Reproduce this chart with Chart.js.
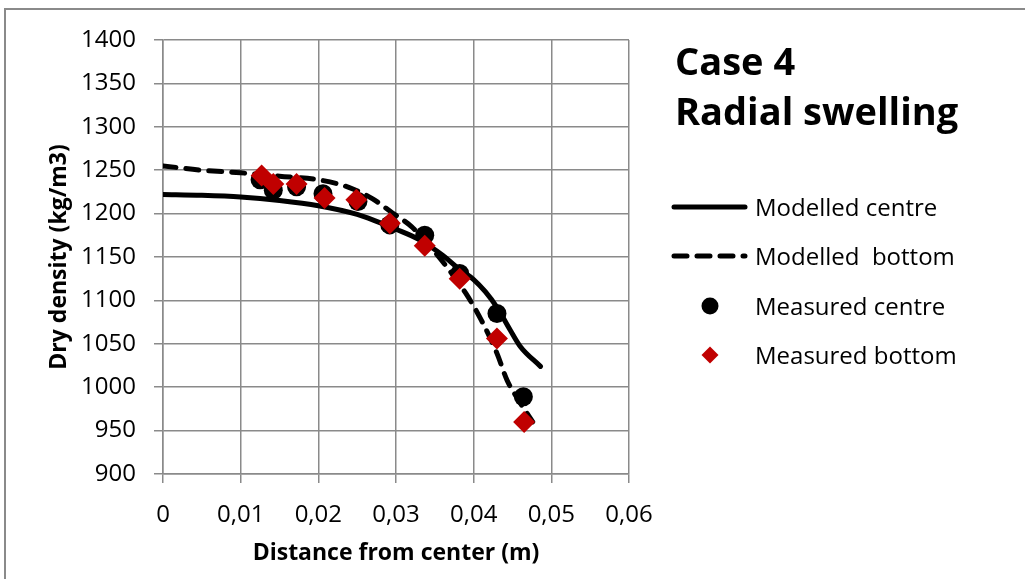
<!DOCTYPE html>
<html>
<head>
<meta charset="utf-8">
<script src="https://cdn.jsdelivr.net/npm/chart.js@4.4.1/dist/chart.umd.min.js"></script>
<style>
  html, body { margin: 0; padding: 0; background: #ffffff; }
  #wrap { width: 1025px; height: 579px; position: relative; }
</style>
</head>
<body>
<div id="wrap"><canvas id="c" width="1025" height="579"></canvas></div>
<script>
// ---- data ----
const modelCentreX = [0, 0.005, 0.01, 0.015, 0.02, 0.025, 0.0275, 0.03, 0.033, 0.036, 0.038, 0.04, 0.0415, 0.043, 0.0447, 0.046, 0.0486];
const modelCentreY = [1222, 1221, 1219, 1215, 1209, 1199, 1191, 1182, 1170, 1152, 1137, 1124, 1110, 1092, 1066, 1047, 1024];

const modelBottomX = [0, 0.005, 0.01, 0.015, 0.02, 0.024, 0.027, 0.0295, 0.032, 0.034, 0.0365, 0.039, 0.041, 0.043, 0.0443, 0.0455, 0.0476];
const modelBottomY = [1255, 1250, 1247, 1243, 1239, 1230, 1217, 1201, 1185, 1166, 1139, 1108, 1077, 1039, 1008, 989, 960];

const measCentreX = [0.0125, 0.0142, 0.0172, 0.0206, 0.0251, 0.0292, 0.0337, 0.0382, 0.043, 0.0464];
const measCentreY = [1239, 1227, 1231, 1223, 1214, 1187, 1175, 1131, 1085, 989];

const measBottomX = [0.0127, 0.0142, 0.0172, 0.0208, 0.0249, 0.0292, 0.0337, 0.0382, 0.043, 0.0465];
const measBottomY = [1244, 1234, 1234, 1218, 1216, 1189, 1163, 1125, 1056, 960];

const seriesNames = ['Modelled centre', 'Modelled  bottom', 'Measured centre', 'Measured bottom'];
const xTickLabels = ['0', '0,01', '0,02', '0,03', '0,04', '0,05', '0,06'];
const yTickLabels = ['900', '950', '1000', '1050', '1100', '1150', '1200', '1250', '1300', '1350', '1400'];
const titleLines = ['Case 4', 'Radial swelling'];
const xAxisTitle = 'Distance from center (m)';
const yAxisTitle = 'Dry density (kg/m3)';

// ---- build ----
const pts = (xs, ys) => xs.map((x, i) => ({ x: x, y: ys[i] }));
const FONT = "'Open Sans', 'Noto Sans', sans-serif";
const GRID = '#8a8a8a';
const RED = '#c00000';

Chart.defaults.font.family = FONT;
Chart.defaults.color = '#000';

const decoPlugin = {
  id: 'deco',
  beforeDraw(chart) {
    const ctx = chart.ctx;
    ctx.save();
    ctx.fillStyle = '#fff';
    ctx.fillRect(0, 0, chart.width, chart.height);
    ctx.strokeStyle = '#8a8a8a';
    ctx.lineWidth = 2;
    ctx.strokeRect(5, 9, chart.width + 20, chart.height + 20);
    ctx.restore();
  },
  afterDraw(chart) {
    const ctx = chart.ctx;
    ctx.save();
    // title
    ctx.fillStyle = '#000';
    ctx.font = "bold 38px " + FONT;
    ctx.textAlign = 'left';
    ctx.textBaseline = 'alphabetic';
    ctx.fillText(titleLines[0], 675, 75);
    ctx.fillText(titleLines[1], 675, 125);

    // legend
    const rows = [207, 256, 306, 355];
    const ds = chart.data.datasets;
    ctx.font = "24px " + FONT;
    for (let i = 0; i < 4; i++) {
      const y = rows[i];
      const d = ds[i];
      ctx.save();
      if (i < 2) {
        ctx.strokeStyle = d.borderColor;
        ctx.lineWidth = d.borderWidth;
        ctx.lineCap = 'round';
        ctx.setLineDash(d.borderDash || []);
        ctx.beginPath();
        ctx.moveTo(674, y);
        ctx.lineTo(745, y);
        ctx.stroke();
      } else if (i === 2) {
        ctx.fillStyle = d.pointBackgroundColor;
        ctx.beginPath();
        ctx.arc(710, y, 8.5, 0, Math.PI * 2);
        ctx.fill();
      } else {
        ctx.fillStyle = d.pointBackgroundColor;
        ctx.beginPath();
        ctx.moveTo(710 - 8.5, y);
        ctx.lineTo(710, y - 8.5);
        ctx.lineTo(710 + 8.5, y);
        ctx.lineTo(710, y + 8.5);
        ctx.closePath();
        ctx.fill();
      }
      ctx.restore();
      ctx.fillStyle = '#000';
      ctx.fillText(d.label, 755, y + 9);
    }
    ctx.restore();
  }
};

new Chart(document.getElementById('c'), {
  type: 'line',
  data: {
    datasets: [
      {
        label: seriesNames[0],
        data: pts(modelCentreX, modelCentreY),
        borderColor: '#000', borderWidth: 5,
        pointRadius: 0, cubicInterpolationMode: 'monotone',
        borderCapStyle: 'round', borderJoinStyle: 'round',
        order: 4
      },
      {
        label: seriesNames[1],
        data: pts(modelBottomX, modelBottomY),
        borderColor: '#000', borderWidth: 5,
        borderDash: [13, 10], borderCapStyle: 'round',
        pointRadius: 0, cubicInterpolationMode: 'monotone',
        order: 3
      },
      {
        label: seriesNames[2],
        data: pts(measCentreX, measCentreY),
        showLine: false,
        pointStyle: 'circle', pointRadius: 9.5, pointBorderWidth: 0,
        pointBackgroundColor: '#000', pointBorderColor: '#000',
        order: 2
      },
      {
        label: seriesNames[3],
        data: pts(measBottomX, measBottomY),
        showLine: false,
        pointStyle: 'rectRot', pointRadius: 11, pointBorderWidth: 0,
        pointBackgroundColor: RED, pointBorderColor: RED,
        order: 1
      }
    ]
  },
  options: {
    responsive: false,
    animation: false,
    events: [],
    layout: { padding: { left: 0, top: 40, right: 396, bottom: 0 } },
    plugins: {
      legend: { display: false },
      tooltip: { enabled: false },
      title: { display: false }
    },
    scales: {
      x: {
        type: 'linear',
        min: 0, max: 0.06,
        afterFit: (s) => { s.height = 105; },
        afterBuildTicks: (s) => { s.ticks = xTickLabels.map((t, i) => ({ value: i * 0.01 })); },
        ticks: {
          font: { size: 24 },
          color: '#000',
          padding: 18,
          maxRotation: 0,
          autoSkip: false,
          callback: (v, i) => xTickLabels[i]
        },
        grid: { color: GRID, lineWidth: 1.5, tickLength: 9, drawTicks: true },
        border: { color: GRID, width: 1.5 },
        title: {
          display: true, text: xAxisTitle,
          font: { size: 23, weight: 'bold' }, color: '#000',
          padding: { top: 0, bottom: 12 }
        }
      },
      y: {
        type: 'linear',
        min: 900, max: 1400,
        afterFit: (s) => { s.width = 163; },
        afterBuildTicks: (s) => { s.ticks = yTickLabels.map((t, i) => ({ value: 900 + i * 50 })); },
        ticks: {
          font: { size: 24 },
          color: '#000',
          padding: 18,
          autoSkip: false,
          callback: (v, i) => yTickLabels[i]
        },
        grid: { color: GRID, lineWidth: 1.5, tickLength: 9, drawTicks: true },
        border: { color: GRID, width: 1.5 },
        title: {
          display: true, text: yAxisTitle,
          font: { size: 23, weight: 'bold' }, color: '#000',
          padding: { top: 46, bottom: 0 }
        }
      }
    }
  },
  plugins: [decoPlugin]
});
</script>
</body>
</html>
